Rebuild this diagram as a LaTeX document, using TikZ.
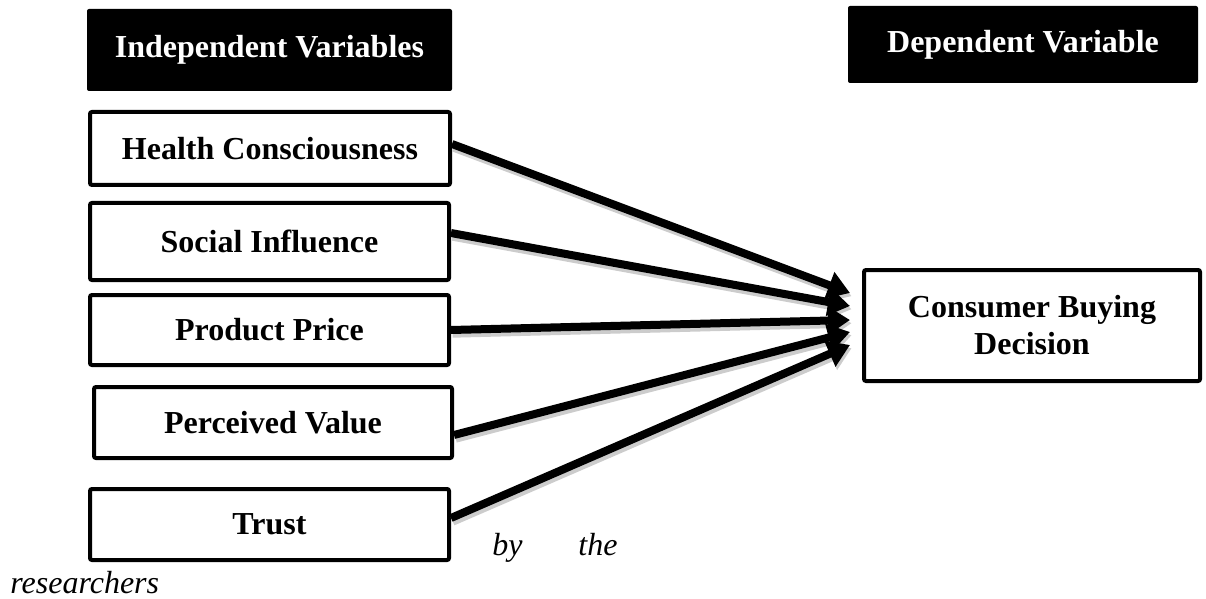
\documentclass[tikz,border=0pt]{standalone}
\usepackage{fontspec}
\setmainfont{Liberation Serif}
\usetikzlibrary{arrows.meta}
\tikzset{
  hdr/.style={fill=black, text=white, rounded corners=1pt, inner sep=0pt,
    font=\fontsize{16}{18.5}\selectfont\bfseries},
  varbox/.style={draw=black, line width=2pt, fill=white, rounded corners=1pt, inner sep=0pt,
    font=\fontsize{16}{18.5}\selectfont\bfseries, align=center},
  link/.style={line width=4pt, -{Triangle[length=11pt,width=13.5pt]},
    preaction={draw=black!20, line width=4.5pt, -{Triangle[length=11pt,width=13.5pt]},
      transform canvas={xshift=0.8pt,yshift=-1.6pt}}},
  note/.style={font=\fontsize{16}{18.5}\selectfont\itshape, inner sep=0pt}
}
\begin{document}
\begin{tikzpicture}[x=0.5pt,y=-0.5pt]
\useasboundingbox (0,0) rectangle (1206,599);
% headers
\node[hdr, minimum width=182.5pt, minimum height=41pt] (hdrL) at (269.5,50) {Independent Variables};
\node[hdr, minimum width=175pt, minimum height=38.5pt] (hdrR) at (1023,44.5) {\raisebox{-1.5pt}{Dependent Variable}};
% independent variables
\node[varbox, minimum width=180pt, minimum height=36.5pt] (health) at (270,148.5) {Health Consciousness};
\node[varbox, minimum width=179.5pt, minimum height=38.5pt] (social) at (269.5,241.5) {Social Influence};
\node[varbox, minimum width=179.5pt, minimum height=35pt] (price) at (269.5,330) {Product Price};
\node[varbox, minimum width=179pt, minimum height=35.5pt] (value) at (273,422.5) {Perceived Value};
\node[varbox, minimum width=179.5pt, minimum height=35.5pt] (trust) at (269.5,524.5) {Trust};
% dependent variable
\node[varbox, minimum width=168pt, minimum height=55.5pt] (cbd) at (1032,325.5) {Consumer Buying\\Decision};
% arrows
\draw[link] ([yshift=2.25pt]health.east) -- ([xshift=-6pt,yshift=16.25pt]cbd.west);
\draw[link] ([yshift=4.25pt]social.east) -- ([xshift=-6pt,yshift=9.75pt]cbd.west);
\draw[link] (price.east) -- ([xshift=-6pt,yshift=2.75pt]cbd.west);
\draw[link] ([yshift=-6.25pt]value.east) -- ([xshift=-6pt,yshift=-3.25pt]cbd.west);
\draw[link] ([yshift=3.25pt]trust.east) -- ([xshift=-6pt,yshift=-9.75pt]cbd.west);
% source note
\node[note, anchor=base west] (by) at (492,555) {by};
\node[note, anchor=base west] (the) at (578,555) {the};
\node[note, anchor=base west] (res) at (10,593) {researchers};
\end{tikzpicture}
\end{document}
